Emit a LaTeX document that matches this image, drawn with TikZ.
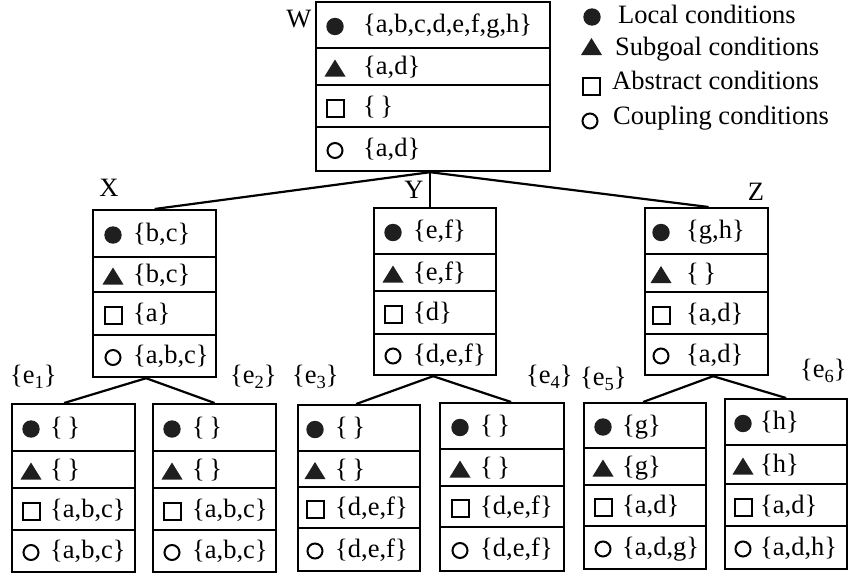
\documentclass[tikz,border=0pt]{standalone}
\usepackage{fontspec}
\setmainfont{Liberation Serif}
\newcommand\esub[1]{\raisebox{-5pt}{\fontsize{18.5}{20}\selectfont #1}}
\newcommand\condbox[8]{%
  \node[cbx, anchor=north west, minimum width={#3pt-#2pt}, minimum height={#8pt-#4pt}] (#1) at (#2,#4) {};
  \draw[sepline] (#2,#5) -- (#3,#5);
  \draw[sepline] (#2,#6) -- (#3,#6);
  \draw[sepline] (#2,#7) -- (#3,#7);
  \pgfmathsetmacro\rca{(#4+#5)/2}%
  \pgfmathsetmacro\rcb{(#5+#6)/2}%
  \pgfmathsetmacro\rcc{(#6+#7)/2}%
  \pgfmathsetmacro\rcd{(#7+#8)/2}%
  \def\rleft{#2}}
\newcommand\condrows[7]{%
  \pgfmathsetmacro\rsx{\rleft+#2}%
  \pgfmathsetmacro\rtx{\rleft+#3}%
  \fill[symfill] (\rsx,\rca+2) circle (8.7pt);
  \fill[symfill] (\rsx-10.5,\rcb+10) -- (\rsx+10.5,\rcb+10) -- (\rsx,\rcb-7) -- cycle;
  \draw[symline] (\rsx-8.5,\rcc-6.5) rectangle (\rsx+8.5,\rcc+10.5);
  \draw[symline] (\rsx,\rcd+2) circle (7.5pt);
  \node[lbl] (#1-1) at (\rtx,\rca+8) {#4};
  \node[lbl] (#1-2) at (\rtx,\rcb+8) {#5};
  \node[lbl] (#1-3) at (\rtx,\rcc+8) {#6};
  \node[lbl] (#1-4) at (\rtx,\rcd+8) {#7};}
\begin{document}
\begin{tikzpicture}[x=1pt,y=-1pt,
  font=\fontsize{26.5}{30}\selectfont,
  cbx/.style={draw, line width=2.2pt, rectangle, inner sep=0pt},
  sepline/.style={line width=2.2pt},
  link/.style={line width=2.2pt},
  symline/.style={line width=2pt},
  symfill/.style={fill=black!88},
  lbl/.style={inner sep=0pt, anchor=base west},
  hd/.style={inner sep=0pt}]
\useasboundingbox (0,0) rectangle (848,576);

% top node W
\condbox{W}{315}{549}{1}{48}{85}{127}{170}
\condrows{W}{20}{48}{\{a,b,c,d,e,f,g,h\}}{\{a,d\}}{\{\,\}}{\{a,d\}}
% middle level
\condbox{X}{92}{215}{209}{257}{292}{335}{376}
\condrows{X}{21}{41}{\{b,c\}}{\{b,c\}}{\{a\}}{\{a,b,c\}}
\condbox{Y}{373}{495}{207}{254}{291}{334}{374}
\condrows{Y}{20}{40}{\{e,f\}}{\{e,f\}}{\{d\}}{\{d,e,f\}}
\condbox{Z}{644}{767}{207}{254}{292}{334}{374}
\condrows{Z}{17}{42}{\{g,h\}}{\{\,\}}{\{a,d\}}{\{a,d\}}
% leaves
\condbox{E1}{11}{134}{403}{451}{488}{530}{571}
\condrows{E1}{20}{39}{\{\,\}}{\{\,\}}{\{a,b,c\}}{\{a,b,c\}}
\condbox{E2}{152}{275}{403}{451}{488}{530}{571}
\condrows{E2}{20}{40}{\{\,\}}{\{\,\}}{\{a,b,c\}}{\{a,b,c\}}
\condbox{E3}{297}{419}{404}{451}{487}{528}{570}
\condrows{E3}{18}{38}{\{\,\}}{\{\,\}}{\{d,e,f\}}{\{d,e,f\}}
\condbox{E4}{439}{563}{402}{449}{486}{527}{570}
\condrows{E4}{21}{41}{\{\,\}}{\{\,\}}{\{d,e,f\}}{\{d,e,f\}}
\condbox{E5}{583}{705}{402}{448}{485}{526}{568}
\condrows{E5}{20}{39}{\{g\}}{\{g\}}{\{a,d\}}{\{a,d,g\}}
\condbox{E6}{724}{846}{398}{445}{484}{526}{568}
\condrows{E6}{19}{36}{\{h\}}{\{h\}}{\{a,d\}}{\{a,d,h\}}

% labels
\node[hd] (Wl) at (299,19) {W};
\node[hd] (Xl) at (109,188) {X};
\node[hd] (Yl) at (414,190) {Y};
\node[hd] (Zl) at (756,192) {Z};
\node[lbl] (e1l) at (10,383) {\{e\esub{1}\}};
\node[lbl] (e2l) at (230,383) {\{e\esub{2}\}};
\node[lbl] (e3l) at (292,383) {\{e\esub{3}\}};
\node[lbl] (e4l) at (526,383) {\{e\esub{4}\}};
\node[lbl] (e5l) at (580,385) {\{e\esub{5}\}};
\node[lbl] (e6l) at (800,377) {\{e\esub{6}\}};

% connectors
\coordinate (Wa) at ([xshift=-3pt]W.south);
\draw[link] (Wa) -- (X.north);
\draw[link] (Wa) -- (Wa |- Y.north);
\draw[link] (Wa) -- ([xshift=2pt]Z.north);
\coordinate (Xa) at ([xshift=-8.5pt]X.south);
\draw[link] (Xa) -- ([xshift=-9.5pt]E1.north);
\draw[link] (Xa) -- (E2.north);
\coordinate (Ya) at ([xshift=-2pt]Y.south);
\draw[link] (Ya) -- ([xshift=-3pt]E3.north);
\draw[link] (Ya) -- ([xshift=9pt]E4.north);
\coordinate (Za) at ([xshift=6.5pt]Z.south);
\draw[link] (Za) -- ([xshift=-2pt]E5.north);
\draw[link] (Za) -- (E6.north);

% legend
\fill[symfill] (592,17) circle (8.7pt);
\node[lbl] (L1) at (618,23) {Local conditions};
\fill[symfill] (581,55) -- (602,55) -- (591.5,38) -- cycle;
\draw[symline] (583,78) rectangle (600,95);
\node[lbl] (L2) at (615,55) {Subgoal conditions};
\node[lbl] (L3) at (612,89) {Abstract conditions};
\draw[symline] (590,121) circle (7.5pt);
\node[lbl] (L4) at (613,124) {Coupling conditions};
\end{tikzpicture}
\end{document}
